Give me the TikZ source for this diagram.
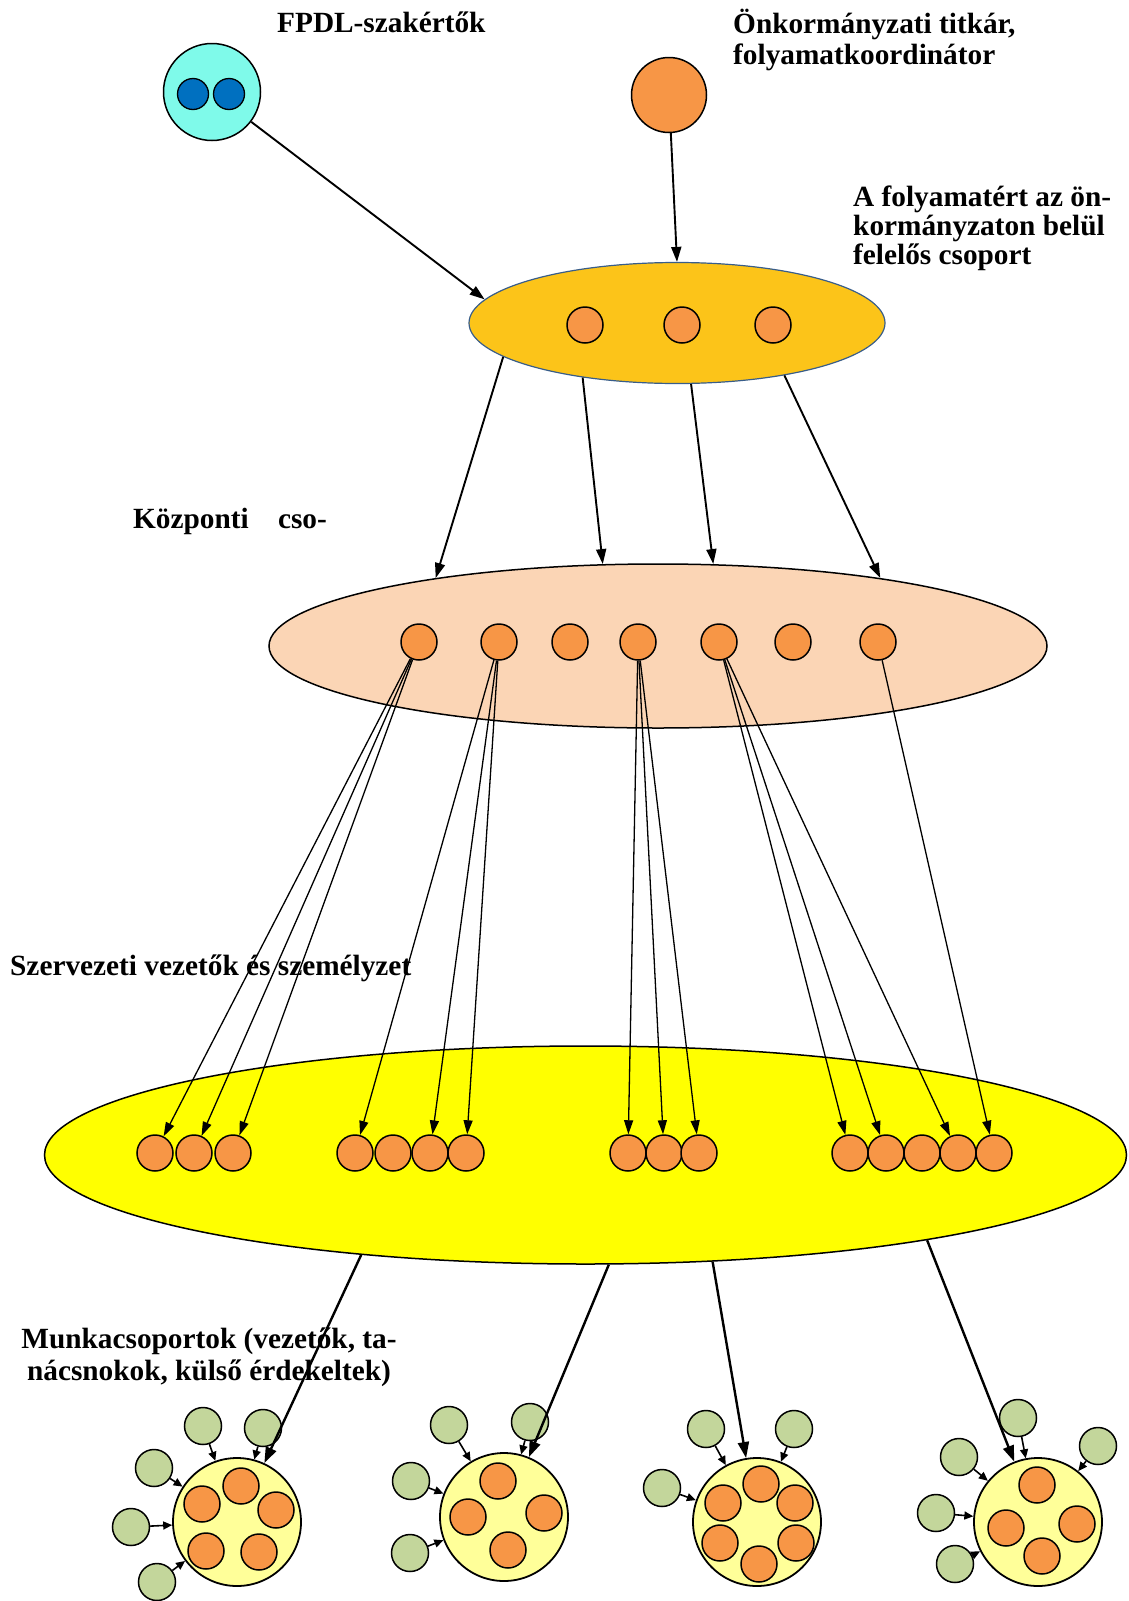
\documentclass[tikz,border=0pt]{standalone}
\usepackage{fontspec}
\setmainfont{Liberation Serif}
\usetikzlibrary{arrows.meta, shapes.geometric}

\definecolor{aquaP}{HTML}{7FFAEA}
\definecolor{blueP}{HTML}{0070C0}
\definecolor{goldP}{HTML}{FCC419}
\definecolor{goldline}{HTML}{385D8A}
\definecolor{peachP}{HTML}{FBD5B5}
\definecolor{orangeP}{HTML}{F79646}
\definecolor{paleP}{HTML}{FFFF99}
\definecolor{greenP}{HTML}{C3D69B}
\definecolor{yellowP}{HTML}{FFFF00}

\begin{document}
\begin{tikzpicture}[x=1pt,y=-1pt,
  lab/.style={font=\fontsize{29.3}{30}\selectfont\bfseries, inner sep=0pt, anchor=base west},
  tag/.style={circle, draw=black, line width=1.5pt, fill=orangeP, minimum size=36pt, inner sep=0pt},
  ext/.style={circle, draw=black, line width=1.5pt, fill=greenP, minimum size=37pt, inner sep=0pt},
  grp/.style={circle, draw=black, line width=1.8pt, fill=paleP, minimum size=128pt, inner sep=0pt},
  big/.style={-{Triangle[length=15pt,width=10pt]}, line width=1.9pt},
  thin/.style={-{Triangle[length=14pt,width=9pt]}, line width=1.3pt},
  heavy/.style={-{Triangle[length=16pt,width=11pt]}, line width=2.4pt},
  small/.style={-{Triangle[length=9pt,width=8pt]}, line width=1.6pt}]

\useasboundingbox (0,0) rectangle (1128,1601);

% --- Szereplok felul
\node[circle, draw, line width=1.5pt, fill=aquaP, minimum size=97pt, inner sep=0pt] (fpdl) at (212,92) {};
\foreach \x [count=\i] in {193,229}
  \node[circle, draw, line width=1.3pt, fill=blueP, minimum size=31pt, inner sep=0pt] (b\i) at (\x,94) {};
\node[circle, draw, line width=1.5pt, fill=orangeP, minimum size=75pt, inner sep=0pt] (titkar) at (669,95) {};

\node[lab] (t1) at (277,32) {FPDL-szakértők};
\node[lab] (t2) at (733,33) {Önkormányzati titkár,};
\node[lab] (t3) at (733,64) {folyamatkoordinátor};
\node[lab] (t4) at (853,206) {A folyamatért az ön-};
\node[lab] (t5) at (853,235) {kormányzaton belül};
\node[lab] (t6) at (853,264) {felelős csoport};

% --- Felelos csoport
\node[ellipse, draw=goldline, line width=1.2pt, fill=goldP, minimum width=416pt, minimum height=121pt, inner sep=0pt] (gold) at (677,323) {};
\foreach \x [count=\i] in {585,682,773}
  \node[tag] (c\i) at (\x,325) {};

% --- Kozponti csoport
\node[lab] (t7) at (133,528) {Központi\hspace{22pt} cso-};
\node[ellipse, draw=black, line width=1.5pt, fill=peachP, minimum width=778pt, minimum height=164pt, inner sep=0pt] (peach) at (658,646) {};
\foreach \x [count=\i] in {419,499,570,638,719,793,878}
  \node[tag] (k\i) at (\x,642) {};

% --- Szervezeti vezetok es szemelyzet
\node[lab] (t8) at (10,975) {Szervezeti vezetők és személyzet};
\node[ellipse, draw=black, line width=1.5pt, fill=yellowP, minimum width=1082pt, minimum height=218pt, inner sep=0pt] (yel) at (585.5,1155) {};
\foreach \x [count=\i] in {155,194,233}
  \node[tag] (sa\i) at (\x,1153) {};
\foreach \x [count=\i] in {355,393,430,466}
  \node[tag] (sb\i) at (\x,1153) {};
\foreach \x [count=\i] in {628,664,699}
  \node[tag] (sc\i) at (\x,1153) {};
\foreach \x [count=\i] in {850,886,922,958,994}
  \node[tag] (sd\i) at (\x,1153) {};

% --- Munkacsoportok
\node[lab, anchor=base] (t9) at (209,1348) {Munkacsoportok (vezetők, ta-};
\node[lab, anchor=base] (t10) at (209,1380) {nácsnokok, külső érdekeltek)};

\node[grp] (wg1) at (237,1522) {};
\foreach \x/\y [count=\i] in {241/1486, 276/1510, 202/1504, 206/1551, 259/1552}
  \node[tag] (w1\i) at (\x,\y) {};
\foreach \x/\y [count=\i] in {203/1426, 263/1428, 154/1468, 131/1527, 157/1582}{
  \node[ext] (g1\i) at (\x,\y) {};
  \draw[small] (g1\i) -- (wg1);
}

\node[grp] (wg2) at (504,1517) {};
\foreach \x/\y [count=\i] in {498/1481, 468/1517, 544/1513, 508/1550}
  \node[tag] (w2\i) at (\x,\y) {};
\foreach \x/\y [count=\i] in {449/1425, 530/1422, 411/1481, 410/1553}{
  \node[ext] (g2\i) at (\x,\y) {};
  \draw[small] (g2\i) -- (wg2);
}

\node[grp] (wg3) at (757,1522) {};
\foreach \x/\y [count=\i] in {761/1484, 723/1503, 795/1503, 720/1543, 796/1543, 759/1564}
  \node[tag] (w3\i) at (\x,\y) {};
\foreach \x/\y [count=\i] in {706/1429, 794/1429, 662/1488}{
  \node[ext] (g3\i) at (\x,\y) {};
  \draw[small] (g3\i) -- (wg3);
}

\node[grp] (wg4) at (1038,1522) {};
\foreach \x/\y [count=\i] in {1037/1485, 1006/1528, 1077/1524, 1042/1556}
  \node[tag] (w4\i) at (\x,\y) {};
\foreach \x/\y [count=\i] in {1018/1418, 959/1457, 1098/1446, 936/1513, 955/1564}{
  \node[ext] (g4\i) at (\x,\y) {};
  \draw[small] (g4\i) -- (wg4);
}

% --- Nyilak
\draw[big] (fpdl) -- (gold.173);
\draw[big] (titkar) -- (gold.north);

\draw[big] (gold.191) -- (peach.163);
\draw[big] (gold.210) -- (peach.124);
\draw[big] (gold.283) -- (peach.56);
\draw[big] (gold.334) -- (peach.17);

\foreach \s in {sa1,sa2,sa3}
  \draw[thin] (k1) -- (\s);
\foreach \s in {sb1,sb3,sb4}
  \draw[thin] (k2) -- (\s);
\foreach \s in {sc1,sc2,sc3}
  \draw[thin] (k4) -- (\s);
\foreach \s in {sd1,sd2,sd4}
  \draw[thin] (k5) -- (\s);
\draw[thin] (k7) -- (sd5);

\draw[heavy] (yel.204) -- (wg1);
\draw[heavy] (yel.282) -- (wg2);
\draw[heavy] (yel.320) -- (wg3);
\draw[heavy] (yel.346) -- (wg4);

\end{tikzpicture}
\end{document}
